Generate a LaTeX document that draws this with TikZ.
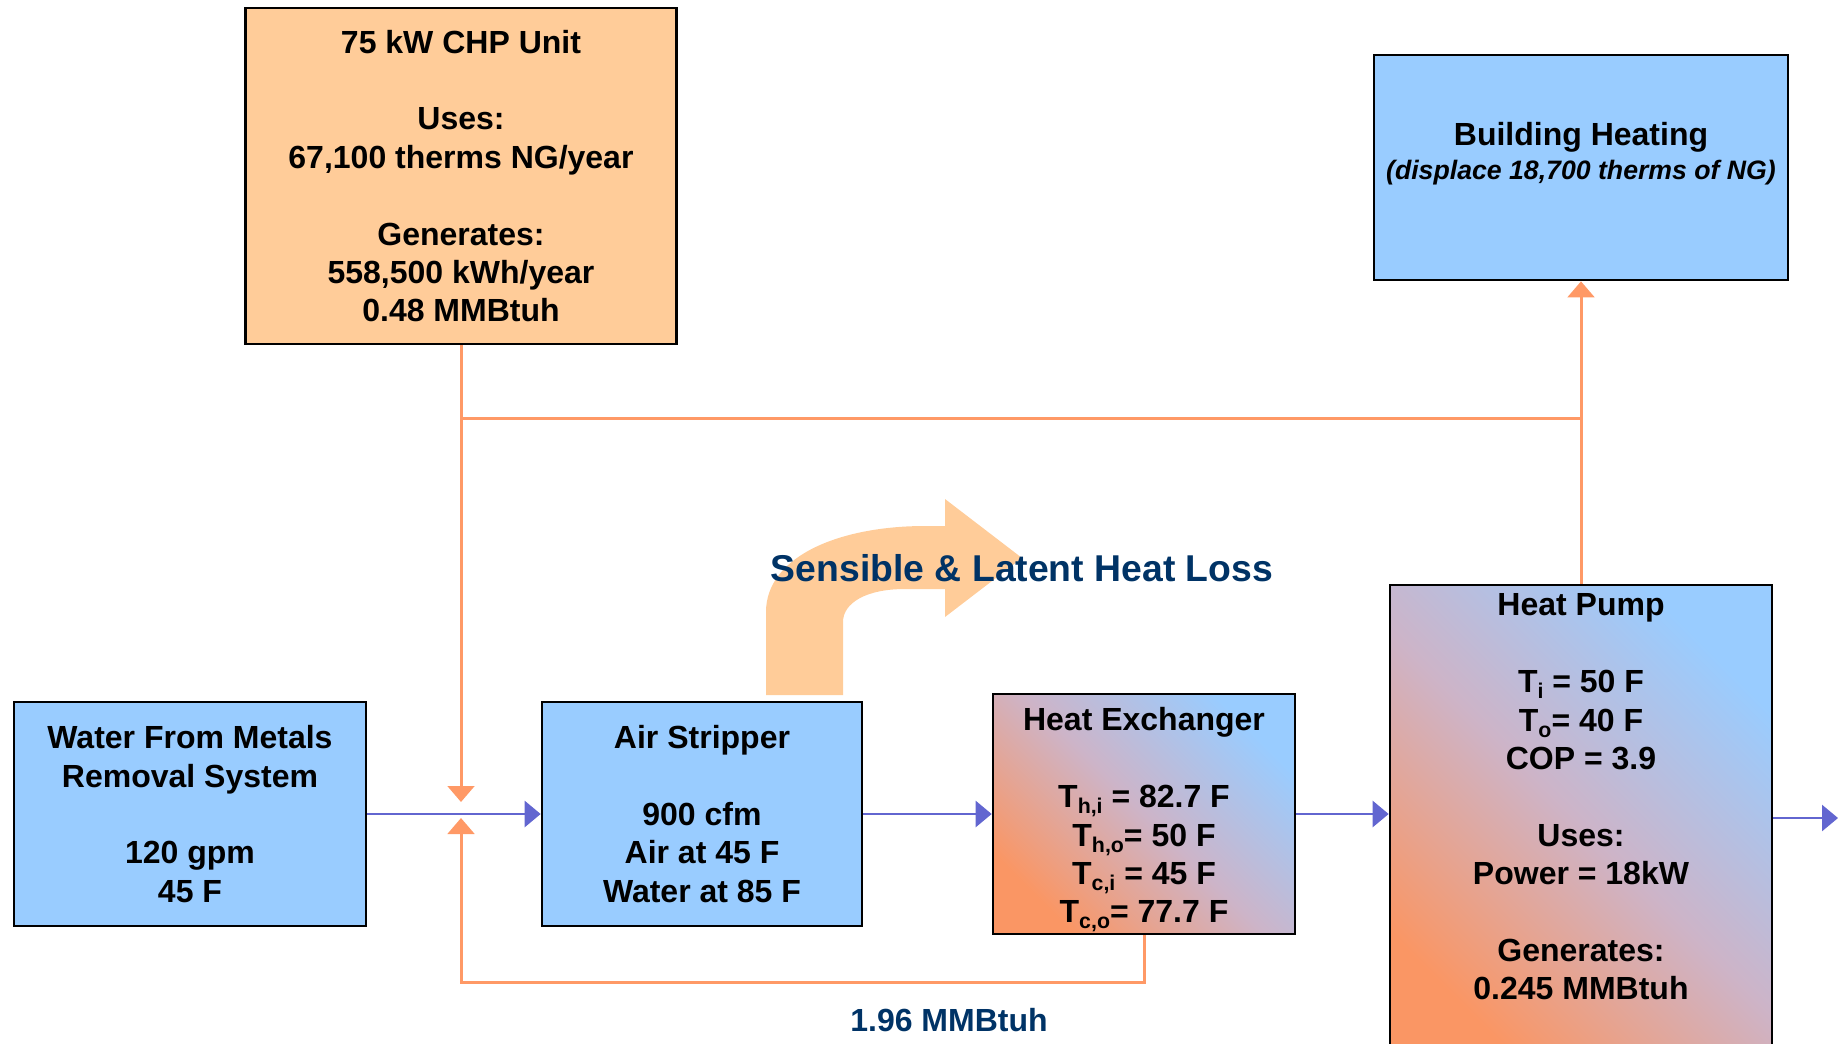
\documentclass[tikz,border=0pt]{standalone}
\usepackage{fontspec}
\setmainfont{Liberation Sans}
\usetikzlibrary{arrows.meta}

\definecolor{boxblue}{RGB}{153,204,255}
\definecolor{chporange}{RGB}{255,204,153}
\definecolor{pipeorange}{RGB}{255,153,102}
\definecolor{hxorange}{RGB}{250,150,100}
\definecolor{hxmid}{RGB}{205,180,200}
\definecolor{flowblue}{RGB}{98,102,208}
\definecolor{navytext}{RGB}{0,51,102}

\newcommand{\lowsub}[1]{\raisebox{-4.5pt}{\fontsize{16}{16}\selectfont #1}}

\tikzset{every picture/.style={line width=0.75pt},
  blockbox/.style={draw=black, line width=2pt, inner sep=0pt, align=center,
    font=\fontsize{24}{28.8}\selectfont\bfseries},
  bluebox/.style={blockbox, fill=boxblue},
  orangebox/.style={blockbox, fill=chporange},
  mixbox/.style={blockbox, bottom color=hxorange, top color=boxblue, middle color=hxmid, shading angle=-45},
  boxtext/.style={inner sep=0pt, align=center, font=\fontsize{24}{28.8}\selectfont\bfseries},
  heatpipe/.style={draw=pipeorange, line width=2.25pt, -{Triangle[length=12pt,width=20pt]}},
  waterpipe/.style={draw=flowblue, line width=2pt, -{Triangle[length=12pt,width=19.5pt]}},
  navylabel/.style={inner sep=0pt, text=navytext, font=\fontsize{24}{28.8}\selectfont\bfseries}}

\begin{document}
\begin{tikzpicture}[x=0.75pt,y=0.75pt,yscale=-1,xscale=1]
\path[use as bounding box, clip] (0,0) rectangle (1847,1043);

%Heat loss arrow
\fill[chporange] (766,695) -- (766,612) .. controls (766,556) and (840,526) .. (925,526) -- (945,526) -- (945,499) -- (1022,558) -- (945,617) -- (945,589) -- (905,589) .. controls (866,589) and (843,603) .. (843,622) -- (843,695) -- cycle;

%Boxes
\node[orangebox, minimum width=323.25pt, minimum height=252pt] (chp) at (461,176) {75 kW CHP Unit\\[1.2em]Uses:\\67,100 therms NG/year\\[1.2em]Generates:\\558,500 kWh/year\\0.48 MMBtuh};
\node[bluebox, minimum width=310.5pt, minimum height=168.75pt] (bldg) at (1581,167.5) {};
\node[boxtext] (bldg-txt) at (1581,154) {Building Heating\\[-3.3pt]{\fontsize{20}{24}\selectfont\itshape (displace 18,700 therms of NG)}};
\node[bluebox, minimum width=264pt, minimum height=168pt] (water) at (190,814) {Water From Metals\\Removal System\\[1.2em]120 gpm\\45 F};
\node[bluebox, minimum width=240pt, minimum height=168pt] (strip) at (702,814) {Air Stripper\\[1.2em]900 cfm\\Air at 45 F\\Water at 85 F};
\node[mixbox, minimum width=226.5pt, minimum height=180pt] (hx) at (1144,814) {};
\node[boxtext] (hx-txt) at (1144,820) {Heat Exchanger\\[1.2em]T\lowsub{h,i} = 82.7 F\\T\lowsub{h,o}= 50 F\\T\lowsub{c,i} = 45 F\\T\lowsub{c,o}= 77.7 F};
\node[mixbox, minimum width=286.5pt, minimum height=356.25pt] (hp) at (1581,822.5) {};
\node[boxtext] (hp-txt) at (1581,797) {Heat Pump\\[1.2em]T\lowsub{i} = 50 F\\T\lowsub{o}= 40 F\\COP = 3.9\\[1.2em]Uses:\\Power = 18kW\\[1.2em]Generates:\\0.245 MMBtuh};

%Labels
\node[navylabel, anchor=base, font=\fontsize{28}{32}\selectfont\bfseries] (loss) at (1022,581) {Sensible \& Latent Heat Loss};
\node[navylabel, anchor=base] (duty) at (949,1031) {1.96 MMBtuh};

%Heat lines
\coordinate (tap) at (461,418);
\coordinate (feed) at (461,802);
\coordinate (ret) at (461,982);
\coordinate (back) at (461,818);
\coordinate (outlet) at (1838,818);
\draw[heatpipe] (chp.south) -- (feed);
\draw[heatpipe, -] (tap) -- (tap -| hp.north);
\draw[heatpipe] (hp.north) -- (bldg.south);
\draw[heatpipe] (hx.south) |- (ret) -- (back);

%Water lines
\draw[waterpipe] (water.east) -- (strip.west);
\draw[waterpipe] (strip.east) -- (hx.west);
\draw[waterpipe] (hx.east) -- (hx.east -| hp.west);
\draw[waterpipe] (outlet -| hp.east) -- (outlet);

\end{tikzpicture}
\end{document}
